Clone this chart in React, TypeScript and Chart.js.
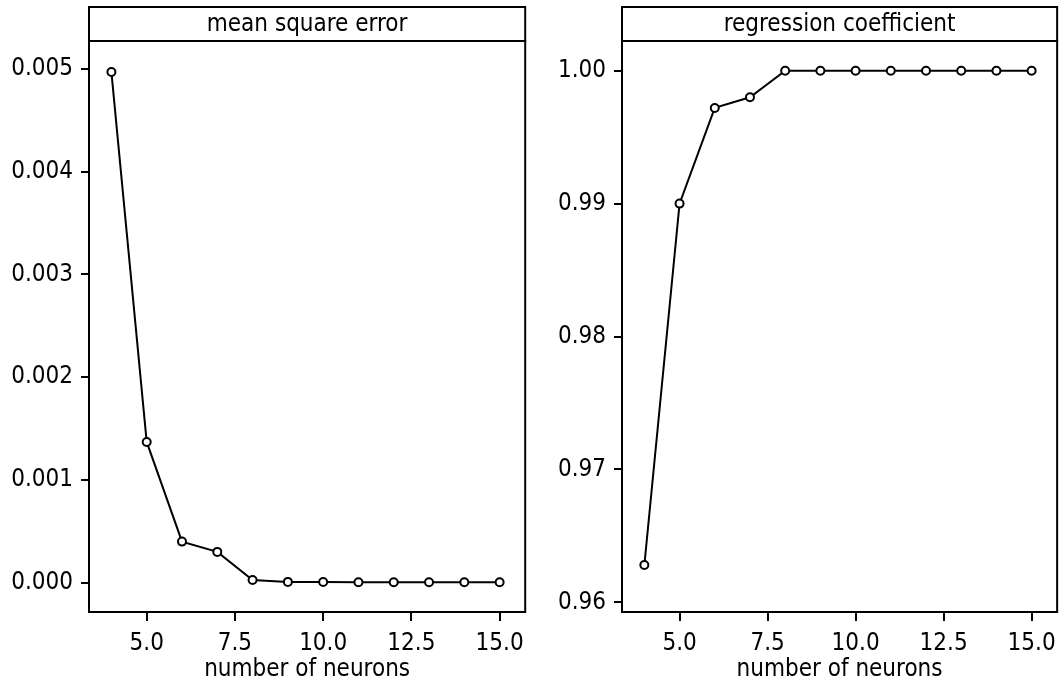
import React, { useEffect, useRef } from "react";
import { Chart, registerables } from "chart.js";

Chart.register(...registerables);

const neurons = [4, 5, 6, 7, 8, 9, 10, 11, 12, 13, 14, 15];
const mseValues = [0.00497, 0.00137, 0.0004, 0.0003, 0.000026, 0.000008, 0.000006, 0.000005, 0.000005, 0.000005, 0.000005, 0.000005];
const regValues = [0.9628, 0.99, 0.9972, 0.998, 1.0, 1.0, 1.0, 1.0, 1.0, 1.0, 1.0, 1.0];
const xTicks = [5.0, 7.5, 10.0, 12.5, 15.0];
const mseTicks = [0.0, 0.001, 0.002, 0.003, 0.004, 0.005];
const regTicks = [0.96, 0.97, 0.98, 0.99, 1.0];
const panelTitles = ["mean square error", "regression coefficient"];
const xTitle = "number of neurons";

const FONT = "'DejaVu Sans Condensed', 'DejaVu Sans', Verdana, sans-serif";
const FS = 24;

const stripPlugin = {
  id: "strip",
  afterDraw(chart: any, _args: any, opts: any) {
    const { ctx, chartArea } = chart;
    const { left, right, top, bottom } = chartArea;
    ctx.save();
    ctx.strokeStyle = "#000";
    ctx.lineWidth = 2;
    ctx.strokeRect(left, top, right - left, bottom - top);
    const sTop = 7;
    ctx.fillStyle = "#fff";
    ctx.fillRect(left, sTop, right - left, top - sTop);
    ctx.strokeRect(left, sTop, right - left, top - sTop);
    ctx.fillStyle = "#000";
    ctx.font = `${FS}px ${FONT}`;
    ctx.textAlign = "center";
    ctx.textBaseline = "middle";
    ctx.fillText(opts.text, (left + right) / 2, (sTop + top) / 2 + 1);
    ctx.restore();
  },
};

function makeConfig(
  values: number[],
  title: string,
  yMin: number,
  yMax: number,
  yTicks: number[],
  digits: number,
  yWidth: number
): any {
  return {
    type: "line",
    data: {
      datasets: [
        {
          data: neurons.map((x, i) => ({ x, y: values[i] })),
          borderColor: "#000",
          borderWidth: 2,
          pointRadius: 4,
          pointBorderWidth: 2,
          pointBorderColor: "#000",
          pointBackgroundColor: "#fff",
          fill: false,
          tension: 0,
        },
      ],
    },
    options: {
      responsive: false,
      animation: false,
      events: [],
      layout: { padding: { top: 41, right: 4, left: 0, bottom: 0 } },
      plugins: {
        legend: { display: false },
        tooltip: { enabled: false },
        strip: { text: title },
      },
      scales: {
        x: {
          type: "linear",
          min: 3.365,
          max: 15.725,
          afterBuildTicks: (s: any) => {
            s.ticks = xTicks.map((v) => ({ value: v }));
          },
          afterFit: (s: any) => {
            s.height = 78;
          },
          border: { display: false },
          grid: {
            display: true,
            drawOnChartArea: false,
            drawTicks: true,
            tickLength: 9,
            color: "#000",
            lineWidth: 2,
          },
          ticks: {
            color: "#000",
            font: { family: FONT, size: FS },
            padding: 8,
            maxRotation: 0,
            autoSkip: false,
            callback: (v: number) => Number(v).toFixed(1),
          },
          title: {
            display: true,
            text: xTitle,
            color: "#000",
            font: { family: FONT, size: FS },
            padding: { top: 0, bottom: 6 },
          },
        },
        y: {
          type: "linear",
          min: yMin,
          max: yMax,
          afterBuildTicks: (s: any) => {
            s.ticks = yTicks.map((v) => ({ value: v }));
          },
          afterFit: (s: any) => {
            s.width = yWidth;
          },
          border: { display: false },
          grid: {
            display: true,
            drawOnChartArea: false,
            drawTicks: true,
            tickLength: 8,
            color: "#000",
            lineWidth: 2,
          },
          ticks: {
            color: "#000",
            font: { family: FONT, size: FS },
            padding: 8,
            autoSkip: false,
            callback: (v: number) => Number(v).toFixed(digits),
          },
        },
      },
    },
    plugins: [stripPlugin],
  };
}

function Panel({ cfg, left }: { cfg: any; left: number }) {
  const ref = useRef<HTMLCanvasElement | null>(null);
  useEffect(() => {
    if (!ref.current) return;
    const chart = new Chart(ref.current, cfg);
    return () => chart.destroy();
  }, []);
  return (
    <canvas
      ref={ref}
      width={532}
      height={690}
      style={{ position: "absolute", left, top: 0, width: 532, height: 690 }}
    />
  );
}

export default function App() {
  const leftCfg = makeConfig(mseValues, panelTitles[0], -0.0002852, 0.0052725, mseTicks, 3, 89);
  const rightCfg = makeConfig(regValues, panelTitles[1], 0.95927, 1.002235, regTicks, 2, 90);
  return (
    <div style={{ position: "absolute", left: 0, top: 0, width: 1064, height: 690, background: "#fff" }}>
      <Panel cfg={leftCfg} left={0} />
      <Panel cfg={rightCfg} left={532} />
    </div>
  );
}
